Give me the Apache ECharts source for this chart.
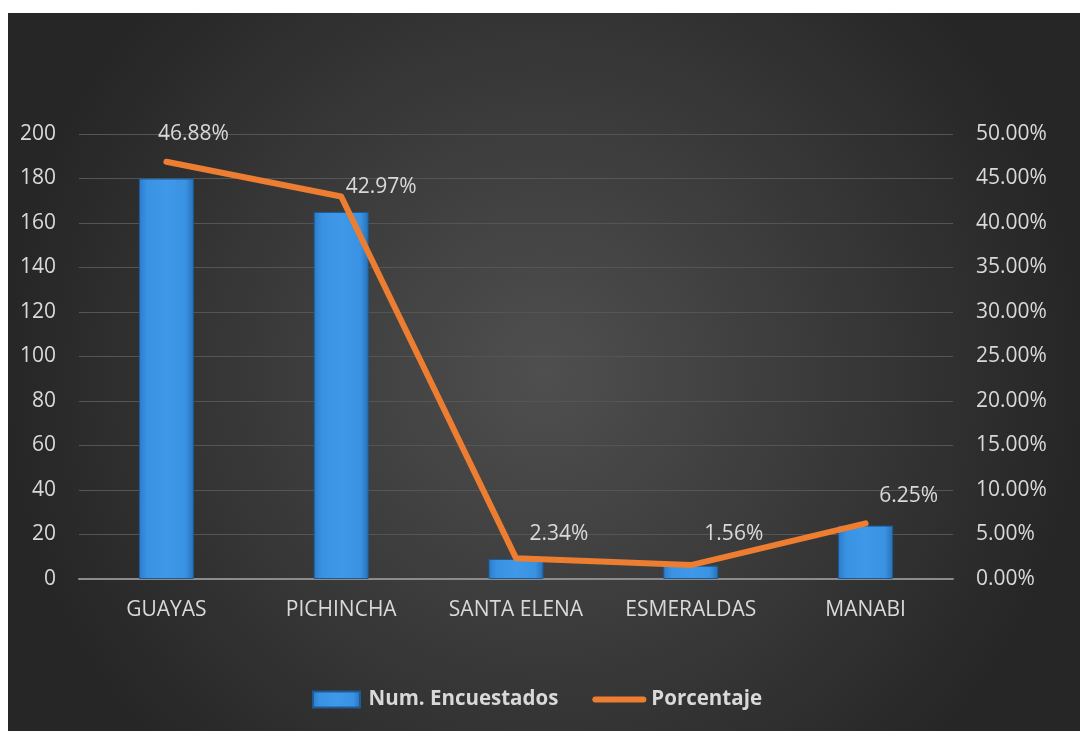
<!DOCTYPE html>
<html>
<head>
<meta charset="utf-8">
<script src="https://cdn.jsdelivr.net/npm/echarts@6/dist/echarts.min.js"></script>
<style>
html,body{margin:0;padding:0;background:#fff;width:1080px;height:731px;overflow:hidden;}
#c{position:absolute;left:8px;top:13px;width:1072px;height:718px;}
</style>
</head>
<body>
<div id="c"></div>
<script>
const categories = ['GUAYAS', 'PICHINCHA', 'SANTA ELENA', 'ESMERALDAS', 'MANABI'];
const encuestados = [180, 165, 9, 6, 24];
const porcentaje = [0.4688, 0.4297, 0.0234, 0.0156, 0.0625];
const leftTicks = { min: 0, max: 200, interval: 20 };
const rightTicks = { min: 0, max: 0.5, interval: 0.05 };

const labelOffsets = [[27, -17], [40, 1], [43, -14], [43, -21], [43, -17]];

const chart = echarts.init(document.getElementById('c'));
const font = 'Open Sans';
const txt = '#d9d9d9';

chart.setOption({
  backgroundColor: {
    type: 'radial', x: 0.5, y: 0.5, r: 0.75,
    colorStops: [{ offset: 0, color: '#4f4f4f' }, { offset: 1, color: '#262626' }]
  },
  textStyle: { fontFamily: font },
  grid: { left: 71, right: 127, top: 121, bottom: 152 },
  legend: {
    left: 299, top: 671,
    itemWidth: 54, itemHeight: 16, itemGap: 34,
    symbolKeepAspect: true,
    textStyle: { color: txt, fontSize: 20.5, fontWeight: 'bold', fontFamily: font },
    data: [
      { name: 'Num. Encuestados', icon: 'path://M0,0 h47 v16 h-47 z' },
      { name: 'Porcentaje', icon: 'path://M3,0 h48 a3,3 0 0 1 0,6 h-48 a3,3 0 0 1 0,-6 z', itemStyle: { color: '#ED7D31' } }
    ]
  },
  xAxis: {
    type: 'category', data: categories,
    axisLine: { lineStyle: { color: '#8c8c8c', width: 2 } },
    axisTick: { show: false },
    axisLabel: { color: txt, fontSize: 21, margin: 21, fontFamily: font }
  },
  yAxis: [
    {
      type: 'value', min: leftTicks.min, max: leftTicks.max, interval: leftTicks.interval,
      axisLine: { show: false }, axisTick: { show: false },
      axisLabel: { color: txt, fontSize: 21, margin: 23, fontFamily: font },
      splitLine: { lineStyle: { color: '#555555', width: 1 } }
    },
    {
      type: 'value', min: rightTicks.min, max: rightTicks.max, interval: rightTicks.interval,
      axisLine: { show: false }, axisTick: { show: false },
      splitLine: { show: false },
      axisLabel: {
        color: txt, fontSize: 21, margin: 23, fontFamily: font,
        formatter: v => (v * 100).toFixed(2) + '%'
      }
    }
  ],
  series: [
    {
      name: 'Num. Encuestados', type: 'bar', data: encuestados, barWidth: 55,
      itemStyle: {
        color: {
          type: 'linear', x: 0, y: 0, x2: 1, y2: 0,
          colorStops: [
            { offset: 0, color: '#2c7ccb' },
            { offset: 0.15, color: '#3a92e2' },
            { offset: 0.5, color: '#3f98e8' },
            { offset: 0.85, color: '#3a92e2' },
            { offset: 1, color: '#2670b8' }
          ]
        },
        borderColor: '#1d5a96', borderWidth: 1
      }
    },
    {
      name: 'Porcentaje', type: 'line', yAxisIndex: 1,
      symbol: 'circle', symbolSize: 0, showSymbol: true,
      lineStyle: { color: '#ED7D31', width: 6, cap: 'round', join: 'round' },
      itemStyle: { color: '#ED7D31' },
      data: porcentaje.map((v, i) => ({
        value: v,
        label: { show: true, position: 'top', distance: 0, offset: labelOffsets[i] }
      })),
      label: {
        show: true, color: txt, fontSize: 21, fontFamily: font,
        formatter: p => (p.value * 100).toFixed(2) + '%'
      }
    }
  ]
});
</script>
</body>
</html>
